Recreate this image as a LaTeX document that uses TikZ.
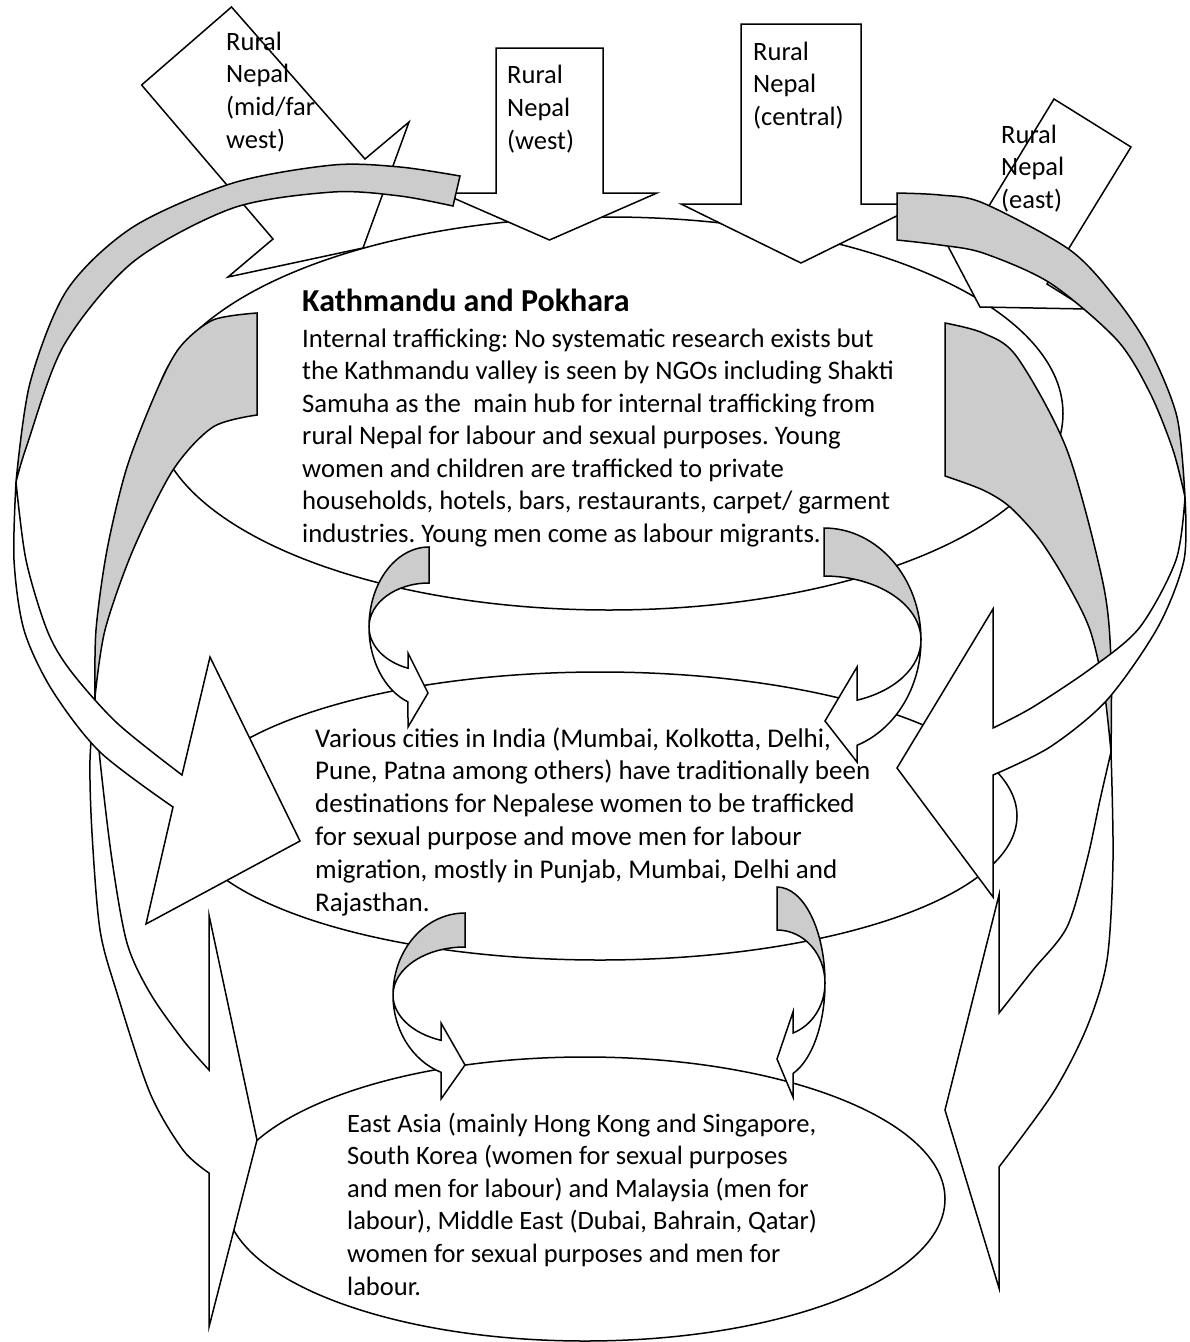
\documentclass[tikz,border=0pt]{standalone}
\usepackage{fontspec}
\setmainfont{Carlito}
\usetikzlibrary{shapes.geometric}
\definecolor{backgrey}{RGB}{204,204,204}
\frenchspacing

\begin{document}
\begin{tikzpicture}[x=1pt, y=-1pt,
  ell/.style={draw, ellipse, fill=white, line width=1.5pt, inner sep=0pt},
  blk/.style={draw, fill=white, line width=1.5pt},
  bk/.style={draw, fill=backgrey, line width=1.5pt},
  fr/.style={draw, fill=white, line width=1.5pt},
  txt/.style={inner sep=0pt, align=left, anchor=north west, font=\fontsize{26.5}{32.8}\selectfont}
]
\useasboundingbox (0,0) rectangle (1190,1342);

% the three regions
\node[ell, minimum width=908pt, minimum height=393pt] (ktm) at (609,413.5) {};
\node[ell, minimum width=834pt, minimum height=288pt] (india) at (600,816) {};
\node[ell, minimum width=720pt, minimum height=284pt] (asia) at (585,1199) {};

% rural Nepal arrows
\draw[blk] (231.5,7) -- (365,159) -- (409,122) -- (363,248) -- (228,277) -- (273,239) -- (141.6,85) -- cycle;
\draw[blk] (496,48) -- (603,48) -- (603,193) -- (657,193) -- (549.5,240) -- (442,193) -- (496,193) -- cycle;
\draw[blk] (741,24) -- (861,24) -- (861,204) -- (921,204) -- (801,263) -- (681,204) -- (741,204) -- cycle;
\draw[blk] (1054,99) -- (1131,147) -- (1047,284) -- (1087,309) -- (980,307) -- (930,212) -- (970,237) -- cycle;

% small curved arrows between the regions
\filldraw[bk] (429,547) arc[start angle=270, end angle=180, x radius=60, y radius=80]
  arc[start angle=180, end angle=270, x radius=60, y radius=44] -- cycle;
\filldraw[fr] (369,627) arc[start angle=180, end angle=110.5, x radius=60, y radius=80]
  -- (408,727) -- (428,693) -- (408,653) -- (408,668.2)
  arc[start angle=110.5, end angle=180, x radius=60, y radius=44] -- cycle;

\filldraw[bk] (824,528) arc[start angle=270, end angle=360, x radius=97, y radius=112]
  arc[start angle=0, end angle=-90, x radius=97, y radius=64] -- cycle;
\filldraw[fr] (921,640) arc[start angle=0, end angle=70.1, x radius=97, y radius=112]
  -- (857,762) -- (825,721) -- (857,667) -- (857,700.2)
  arc[start angle=70.1, end angle=0, x radius=97, y radius=64] -- cycle;

\filldraw[bk] (465,913) arc[start angle=270, end angle=180, x radius=72, y radius=82]
  arc[start angle=180, end angle=270, x radius=72, y radius=48] -- cycle;
\filldraw[fr] (393,995) arc[start angle=180, end angle=109.47, x radius=72, y radius=82]
  -- (441,1099) -- (465,1065) -- (441,1023) -- (441,1040.3)
  arc[start angle=109.47, end angle=180, x radius=72, y radius=48] -- cycle;

\filldraw[bk] (777,887) arc[start angle=270, end angle=360, x radius=48, y radius=96]
  arc[start angle=0, end angle=-90, x radius=48, y radius=53] -- cycle;
\filldraw[fr] (825,983) arc[start angle=0, end angle=70.53, x radius=48, y radius=96]
  -- (793,1097) -- (777,1059) -- (793,1012) -- (793,1033)
  arc[start angle=70.53, end angle=0, x radius=48, y radius=53] -- cycle;

% inner big arrows
\filldraw[bk] plot[smooth] coordinates {(257,313) (213,320) (180,347) (157,390) (127,467) (107,550) (96,630) (95,697)}
  -- plot[smooth] coordinates {(95,697) (105,630) (133,550) (173,470) (213,427) (257,415)} -- cycle;
\filldraw[fr] plot[smooth] coordinates {(95,697) (100,760) (112,860) (127,943) (150,993) (183,1040) (209,1070)}
  -- (209,915) -- (257,1140) -- (209,1327) -- (209,1173)
  -- plot[smooth] coordinates {(209,1173) (183,1150) (150,1093) (117,993) (100,930) (92,833) (90,760) (95,697)} -- cycle;

\filldraw[bk] plot[smooth] coordinates {(945,323) (983,333) (1017,357) (1067,450) (1103,583) (1111,660) (1111,752)}
  -- plot[smooth] coordinates {(1111,752) (1104,690) (1090,630) (1067,583) (1040,540) (1010,507) (983,490) (945,476)} -- cycle;
\filldraw[fr] plot[smooth] coordinates {(1111,752) (1100,800) (1087,860) (1067,927) (1033,970) (999,1013)}
  -- (999,895) -- (945,1110) -- (999,1288) -- (999,1167)
  -- plot[smooth] coordinates {(999,1167) (1053,1093) (1087,1027) (1107,960) (1113,860) (1111,752)} -- cycle;

% outer big arrows
\filldraw[bk] plot[smooth] coordinates {(460,176) (400,167) (333,165) (233,183) (133,227) (67,290) (30,383) (16,482)}
  -- plot[smooth] coordinates {(16,482) (27,445) (64,345) (133,262) (233,208) (333,192) (400,196) (453,206)} -- cycle;
\filldraw[fr] plot[smooth] coordinates {(16,482) (26,560) (47,630) (70,670) (117,723) (182,775)}
  -- (210,657) -- (300,841) -- (146,924) -- (173,807)
  -- plot[smooth] coordinates {(173,807) (100,752) (52,690) (24,630) (14,560) (16,482)} -- cycle;

\filldraw[bk] plot[smooth] coordinates {(897,193) (940,195) (983,203) (1070,250) (1117,300) (1150,350) (1177,417) (1185,497)}
  -- plot[smooth] coordinates {(1185,497) (1173,450) (1150,393) (1117,340) (1050,283) (983,253) (940,245) (897,240)} -- cycle;
\filldraw[fr] plot[smooth] coordinates {(1185,497) (1176,560) (1140,627) (1093,667) (1033,707) (993,728)}
  -- (993,609) -- (897,768) -- (993,897) -- (993,775)
  -- plot[smooth] coordinates {(993,775) (1050,747) (1107,700) (1158,627) (1184,560) (1185,497)} -- cycle;

% texts
\node[txt] (midfar) at (226,27) {\strut Rural\\Nepal\\(mid/far\\west)};
\node[txt] (west) at (507,60.5) {\strut Rural\\Nepal\\(west)};
\node[txt] (central) at (753,37) {\strut Rural\\Nepal\\(central)};
\node[txt] (east) at (1001,120) {\strut Rural\\Nepal\\(east)};

\node[inner sep=0pt, anchor=base west, font=\fontsize{32}{38}\selectfont\bfseries] (ktmhead) at (302,311.7) {Kathmandu and Pokhara};
\node[txt, font=\fontsize{26.7}{32.5}\selectfont] (ktmtext) at (302,324.3) {\strut Internal trafficking: No systematic research exists but\\
the Kathmandu valley is seen by NGOs including Shakti\\
Samuha as the\ \ main hub for internal trafficking from\\
rural Nepal for labour and sexual purposes. Young\\
women and children are trafficked to private\\
households, hotels, bars, restaurants, carpet/ garment\\
industries. Young men come as labour migrants.};
\node[txt, font=\fontsize{27}{32.8}\selectfont] (indiatext) at (315,724) {\strut Various cities in India (Mumbai, Kolkotta, Delhi,\\
Pune, Patna among others) have traditionally been\\
destinations for Nepalese women to be trafficked\\
for sexual purpose and move men for labour\\
migration, mostly in Punjab, Mumbai, Delhi and\\
Rajasthan.};
\node[txt, font=\fontsize{26.5}{32.6}\selectfont] (asiatext) at (347,1109) {\strut East Asia (mainly Hong Kong and Singapore,\\
South Korea (women for sexual purposes\\
and men for labour) and Malaysia (men for\\
labour), Middle East (Dubai, Bahrain, Qatar)\\
women for sexual purposes and men for\\
labour.};
\end{tikzpicture}
\end{document}
